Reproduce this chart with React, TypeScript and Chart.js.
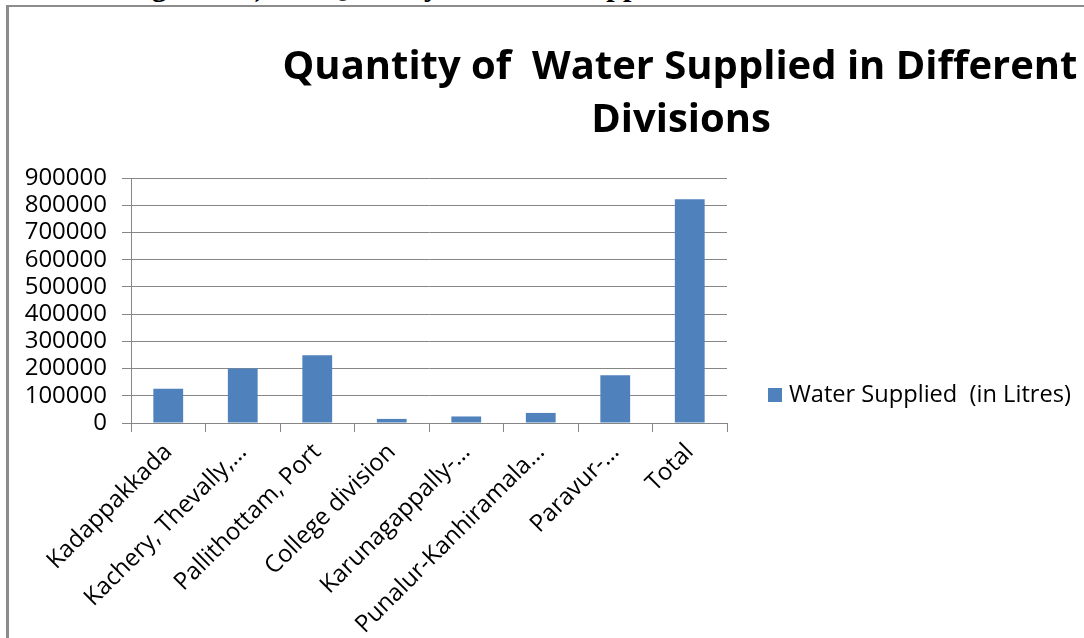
import React, { useEffect, useRef } from "react";
import { Chart, registerables } from "chart.js";

Chart.register(...registerables);

const categories = [
  "Kadappakkada",
  "Kachery, Thevally,…",
  "Pallithottam, Port",
  "College division",
  "Karunagappally-…",
  "Punalur-Kanhiramala…",
  "Paravur-…",
  "Total",
];
const waterSupplied = [126000, 200000, 249000, 15000, 24000, 37000, 175000, 822000];
const seriesLabel = "Water Supplied  (in Litres)";
const titleLines = ["Quantity of  Water Supplied in Different", "Divisions"];
const yTickValues = [0, 100000, 200000, 300000, 400000, 500000, 600000, 700000, 800000, 900000];
const yTickLabels = ["0", "100000", "200000", "300000", "400000", "500000", "600000", "700000", "800000", "900000"];
const headerLeft = "Figure 3.5)";
const headerRight = "Quantity of  Water Supplied";

const BAR_COLOR = "#4F81BD";
const GRID_COLOR = "#868686";
const FONT = '"Open Sans", sans-serif';

const fitFont = (ctx: CanvasRenderingContext2D, text: string, weight: string, target: number) => {
  ctx.font = `${weight} 40px ${FONT}`;
  const w = ctx.measureText(text).width;
  return (40 * target) / w;
};

const overlayPlugin = {
  id: "overlay",
  afterDraw(chart: any) {
    const ctx: CanvasRenderingContext2D = chart.ctx;
    ctx.save();
    const ts = fitFont(ctx, titleLines[0], "bold", 795);
    ctx.font = `bold ${ts}px ${FONT}`;
    ctx.fillStyle = "#000";
    ctx.textAlign = "center";
    ctx.textBaseline = "alphabetic";
    ctx.fillText(titleLines[0], 680, 79);
    ctx.fillText(titleLines[1], 681, 132);
    ctx.fillStyle = BAR_COLOR;
    ctx.fillRect(768, 388, 14, 14);
    const ls = fitFont(ctx, seriesLabel, "normal", 282);
    ctx.font = `normal ${ls}px ${FONT}`;
    ctx.fillStyle = "#000";
    ctx.textAlign = "left";
    ctx.textBaseline = "middle";
    ctx.fillText(seriesLabel, 789, 395);
    ctx.restore();
  },
};

const headerStyle: React.CSSProperties = {
  position: "absolute",
  top: -29,
  font: 'bold 30px "Liberation Serif", serif',
  lineHeight: "30px",
  whiteSpace: "pre",
  color: "#000",
};

export default function App() {
  const ref = useRef<HTMLCanvasElement | null>(null);

  useEffect(() => {
    if (!ref.current) return;
    const chart = new Chart(ref.current, {
      type: "bar",
      data: {
        labels: categories,
        datasets: [
          {
            label: seriesLabel,
            data: waterSupplied,
            backgroundColor: BAR_COLOR,
            borderWidth: 0,
            categoryPercentage: 1,
            barPercentage: 0.4,
          },
        ],
      },
      options: {
        responsive: false,
        animation: false,
        devicePixelRatio: 1,
        layout: { padding: { left: 0, top: 178, right: 357, bottom: 0 } },
        plugins: {
          legend: { display: false },
          title: { display: false },
          tooltip: { enabled: false },
        },
        scales: {
          x: {
            grid: {
              display: true,
              drawOnChartArea: false,
              drawTicks: true,
              tickLength: 9,
              color: GRID_COLOR,
              offset: true,
            },
            border: { display: true, color: GRID_COLOR, width: 1 },
            ticks: {
              autoSkip: false,
              minRotation: 45,
              maxRotation: 45,
              padding: 6,
              color: "#000",
              font: { family: FONT, size: 24 },
            },
            afterFit: (s: any) => {
              s.height = 215;
            },
          },
          y: {
            min: 0,
            max: 900000,
            afterBuildTicks: (s: any) => {
              s.ticks = yTickValues.map((v) => ({ value: v }));
            },
            ticks: {
              autoSkip: false,
              padding: 15,
              color: "#000",
              font: { family: FONT, size: 24, lineHeight: 1 },
              callback: (_v: any, i: number) => yTickLabels[i],
            },
            grid: { color: GRID_COLOR, tickLength: 9, drawTicks: true },
            border: { display: true, color: GRID_COLOR, width: 1 },
            afterFit: (s: any) => {
              s.width = 131;
            },
          },
        },
      },
      plugins: [overlayPlugin],
    });
    return () => chart.destroy();
  }, []);

  return (
    <div
      style={{
        position: "fixed",
        left: 0,
        top: 0,
        width: 1084,
        height: 638,
        overflow: "hidden",
        background: "#fff",
      }}
    >
      <div style={{ ...headerStyle, left: 125 }}>{headerLeft}</div>
      <div style={{ ...headerStyle, left: 324 }}>{headerRight}</div>
      <div
        style={{
          position: "absolute",
          left: 6,
          top: 5,
          width: 1200,
          height: 800,
          borderLeft: "3px solid #8c8c8c",
          borderTop: "2px solid #8c8c8c",
        }}
      />
      <canvas
        ref={ref}
        width={1084}
        height={638}
        style={{ position: "absolute", left: 0, top: 0, width: 1084, height: 638 }}
      />
    </div>
  );
}
